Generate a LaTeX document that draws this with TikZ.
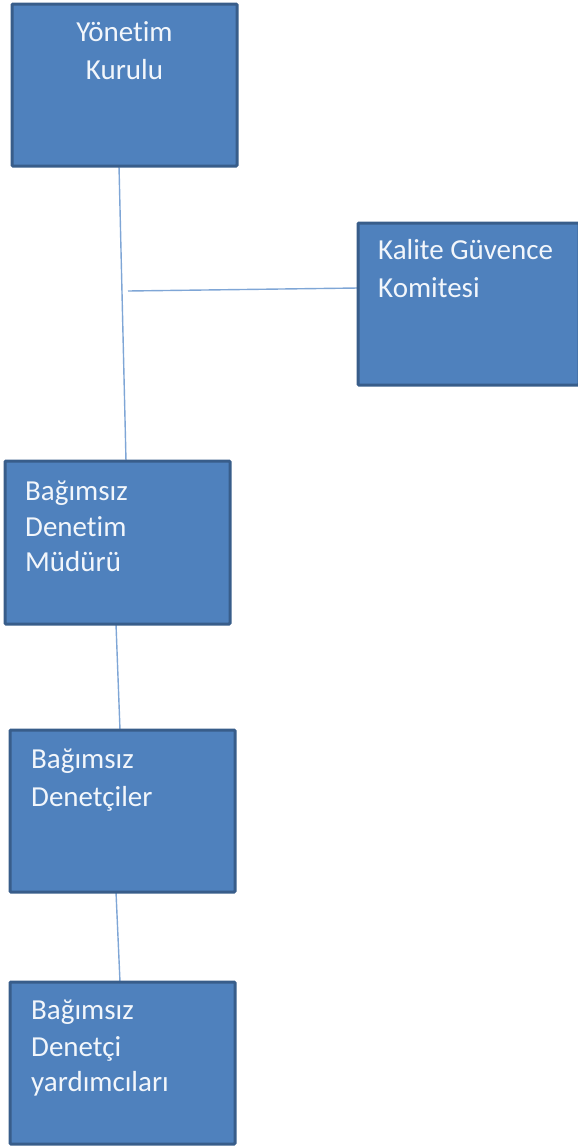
\documentclass[tikz,border=0pt]{standalone}
\usepackage{fontspec}
\setmainfont{Carlito}[Ligatures={NoCommon}]
\definecolor{boxfill}{HTML}{4F81BD}
\definecolor{boxline}{HTML}{385D8A}
\definecolor{conn}{HTML}{7FA6D6}
\definecolor{txt}{HTML}{F2F6FB}
\begin{document}
\begin{tikzpicture}[x=1pt,y=-1pt,
  orgbox/.style={draw=boxline,fill=boxfill,line width=3pt,rounded corners=1pt},
  lbl/.style={anchor=base west,inner sep=0pt,text=txt,font=\fontsize{29}{38}\selectfont},
  clbl/.style={anchor=base,inner sep=0pt,text=txt,font=\fontsize{29}{38}\selectfont},
  connector/.style={draw=conn,line width=1.4pt}]
\useasboundingbox (0,0) rectangle (578,1146);
% connectors (behind boxes)
\coordinate (c1a) at (119,166);
\coordinate (c1b) at (126,461);
\coordinate (c2a) at (128,291);
\coordinate (c2b) at (358,288);
\coordinate (c3a) at (116,624);
\coordinate (c3b) at (120,730);
\coordinate (c4a) at (116,892);
\coordinate (c4b) at (120,982);
\draw[connector] (c1a) -- (c1b);
\draw[connector] (c2a) -- (c2b);
\draw[connector] (c3a) -- (c3b);
\draw[connector] (c4a) -- (c4b);
% boxes
\path[orgbox] (12,4) rectangle (237,166);
\path[orgbox] (358,223) rectangle (579,385);
\path[orgbox] (5,461) rectangle (230,624);
\path[orgbox] (10,730) rectangle (235,892);
\path[orgbox] (10,982) rectangle (235,1144);
% box name anchors
\node[inner sep=0pt] (yk) at (124.5,85) {};
\node[inner sep=0pt] (kgk) at (468,304) {};
\node[inner sep=0pt] (bdm) at (117.5,542) {};
\node[inner sep=0pt] (bd) at (122.5,811) {};
\node[inner sep=0pt] (bdy) at (122.5,1063) {};
% texts
\node[clbl] (t1) at (124.5,41) {Yönetim};
\node[clbl] (t2) at (124.5,79) {Kurulu};
\node[lbl] (t3) at (378,259) {Kalite Güvence};
\node[lbl] (t4) at (378,297) {Komitesi};
\node[lbl] (t5) at (25,500) {Bağımsız};
\node[lbl] (t6) at (25,536) {Denetim};
\node[lbl] (t7) at (25,571) {Müdürü};
\node[lbl] (t8) at (31,768) {Bağımsız};
\node[lbl] (t9) at (31,806) {Denetçiler};
\node[lbl] (t10) at (31,1019) {Bağımsız};
\node[lbl] (t11) at (31,1056) {Denetçi};
\node[lbl] (t12) at (31,1091) {yardımcıları};
\end{tikzpicture}
\end{document}
